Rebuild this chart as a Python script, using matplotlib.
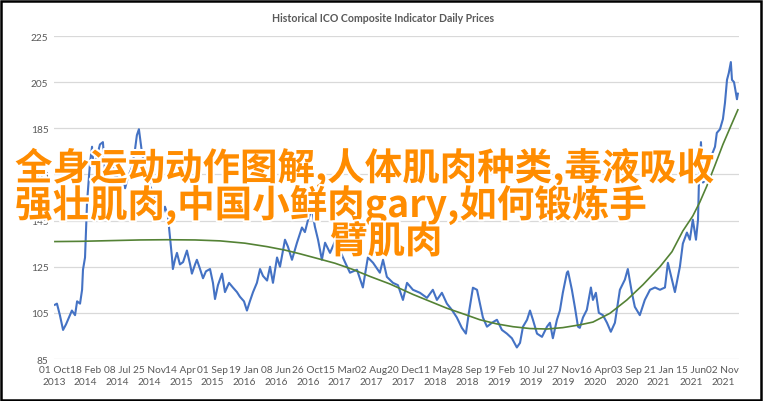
import matplotlib
matplotlib.use("Agg")
import matplotlib.pyplot as plt
import matplotlib.patheffects as pe
import pandas as pd

W, H = 766, 402

# Composite indicator (US cents/lb), days counted from the first trading day
start_date = "2013-10-01"
blue_day = [4, 13, 26, 40, 53, 66, 79, 93, 102, 115, 124, 128, 137, 146, 155, 159, 168, 172,
            181, 190, 203, 216, 225, 234, 247, 261, 274, 291, 305, 314, 327, 344, 358, 366,
            375, 384, 389, 402, 411, 424, 437, 450, 459, 477, 490, 503, 512, 521, 525, 534,
            543, 556, 570, 587, 601, 609, 623, 631, 645, 658, 671, 689, 702, 711, 724, 742,
            755, 773, 790, 808, 821, 839, 852, 865, 879, 896, 910, 923, 941, 954, 967, 985,
            998, 1020, 1033, 1051, 1073, 1095, 1108, 1122, 1139, 1152, 1166, 1183, 1197, 1219,
            1241, 1263, 1285, 1307, 1338, 1364, 1386, 1409, 1439, 1453, 1470, 1497, 1519, 1541,
            1559, 1585, 1616, 1647, 1673, 1691, 1713, 1735, 1757, 1779, 1801, 1819, 1832, 1850,
            1868, 1881, 1894, 1912, 1934, 1956, 1978, 2000, 2022, 2044, 2058, 2071, 2089, 2102,
            2115, 2133, 2155, 2177, 2190, 2203, 2221, 2234, 2247, 2265, 2270, 2287, 2300, 2314,
            2322, 2336, 2353, 2371, 2380, 2393, 2406, 2424, 2442, 2459, 2477, 2499, 2521, 2534,
            2552, 2565, 2587, 2609, 2632, 2654, 2676, 2698, 2711, 2729, 2742, 2764, 2777, 2795,
            2808, 2821, 2835, 2844, 2848, 2857, 2866, 2883, 2897, 2919, 2927, 2941, 2954, 2963,
            2972, 2980, 2989, 2994, 3003, 3011, 3016, 3020]
blue_price = [108.5, 109, 104, 97.6, 100, 103, 106, 104, 110, 109, 115, 123.7, 129, 153, 165, 170, 177, 172,
              168, 173, 178, 179, 167, 170, 164, 168, 162, 170, 164, 159, 164, 168, 176, 182,
              184.6, 178, 174, 168, 164, 160, 157, 152, 150, 147, 151, 147, 138, 129, 124, 128,
              131, 126, 127, 132, 126, 122, 126, 128, 124, 120, 123, 124, 118, 111, 117, 122,
              114, 118, 116, 114, 112, 110, 106, 110, 114, 118, 124, 121, 119, 125, 118, 129,
              125, 136.7, 133.7, 128, 135.4, 142, 140, 145.4, 150, 142.4, 136.7, 128, 135.4, 131,
              136, 132, 127, 122.4, 123.7, 116, 129, 126.7, 122.4, 128, 120.6, 118, 117, 110.6,
              118, 115, 113.7, 111.5, 115, 110.6, 113.7, 109, 106.3, 103, 98.5, 96, 105, 115.9,
              115, 109, 103, 99, 100.7, 102, 97.6, 96, 94, 90, 92, 99, 102, 106,
              102, 96, 94.6, 99, 100.7, 94, 102, 106, 113.7, 122.4, 123, 115, 107.6, 99,
              98.5, 103, 106.3, 116, 110.6, 113.7, 105, 104, 100.7, 96.8, 100.7, 115, 119.4, 124,
              113.7, 107.6, 104, 110.6, 115, 116, 115, 116, 126.7, 119.4, 114, 125, 135, 139.8,
              136.7, 145.4, 136.7, 145.4, 161.5, 179, 161.5, 163, 171.5, 177, 183, 184.6, 189, 196,
              206, 209, 213.7, 206, 205, 200.6, 197.6, 200]

# polynomial trendline
trend_day = [4, 115, 247, 380, 499, 623, 733, 843, 941, 1020, 1086, 1166, 1241, 1320, 1395,
             1484, 1585, 1660, 1735, 1815, 1881, 1956, 2027, 2102, 2177, 2247, 2322, 2380,
             2455, 2530, 2601, 2676, 2729, 2777, 2821, 2852, 2883, 2919, 2954, 2989, 3020]
trend_price = [135.9, 136.0, 136.3, 136.6, 136.7, 136.6, 136.2, 135.2, 133.7, 132.2, 130.6,
               128.5, 126.5, 123.8, 120.8, 117.5, 113, 110, 107, 104.3, 102, 100.2, 99, 98.2,
               98, 98.6, 99.8, 101, 104.8, 110.6, 117.2, 125, 131.5, 140.5, 147, 153, 160,
               169, 178, 186, 193]

tick_dates = ["2013-10-01", "2014-02-18", "2014-07-08", "2014-11-25", "2015-04-14",
              "2015-09-01", "2016-01-19", "2016-06-08", "2016-10-26", "2017-03-15",
              "2017-08-02", "2017-12-20", "2018-05-11", "2018-09-28", "2019-02-19",
              "2019-07-10", "2019-11-27", "2020-04-16", "2020-09-03", "2021-01-21",
              "2021-06-15", "2021-11-02"]
y_ticks = [85, 105, 125, 145, 165, 185, 205, 225]

title = "Historical ICO Composite Indicator Daily Prices"
overlay_lines = ["全身运动动作图解,人体肌肉种类,毒液吸收",
                 "强壮肌肉,中国小鲜肉gary,如何锻炼手",
                 "臂肌肉"]

t0 = pd.Timestamp(start_date)
blue_x = t0 + pd.to_timedelta(blue_day, unit="D")
trend_x = t0 + pd.to_timedelta(trend_day, unit="D")
ticks = pd.to_datetime(tick_dates)

fig = plt.figure(figsize=(W / 100, H / 100), dpi=100)
ax = fig.add_axes([54 / W, 1 - 360 / H, 685 / W, 323 / H])

ax.plot(blue_x, blue_price, color="#4472C4", lw=1.5, zorder=3)
ax.plot(trend_x, trend_price, color="#548235", lw=1.2, zorder=4)

ax.set_xlim(t0, t0 + pd.Timedelta(days=3025))
ax.set_ylim(85, 225)
ax.set_yticks(y_ticks)
ax.set_xticks(ticks)
ax.set_xticklabels([d.strftime("%d %b\n%Y") for d in ticks])
ax.grid(axis="y", color="#D9D9D9", lw=0.9)
ax.set_axisbelow(True)
for s in ax.spines.values():
    s.set_visible(False)
ax.tick_params(length=0, labelsize=7.3, labelcolor="#595959", pad=4)
for lab in ax.get_xticklabels() + ax.get_yticklabels():
    lab.set_fontfamily("Lato")
for lab in ax.get_xticklabels():
    lab.set_linespacing(1.5)

fig.text(0.5, 1 - 19 / H, title, ha="center", va="center", fontsize=7.6,
         fontweight="bold", color="#595959", family="Lato")

# overlay caption
halo = [pe.withStroke(linewidth=3, foreground="white")]
text_pos = [(15, 181), (15, 218), (330, 254)]
for line, (px, py) in zip(overlay_lines, text_pos):
    fig.text(px / W, 1 - py / H, line, ha="left", va="baseline", fontsize=27,
             color="#FF8C00", family=["Noto Sans CJK SC", "DejaVu Sans"],
             fontweight="bold", path_effects=halo, zorder=10)

# outer frame
fig.patches.append(plt.Rectangle((1 / W, 1 / H), 760 / W, 399 / H, transform=fig.transFigure,
                                 fill=False, ec="black", lw=1.8))

fig.savefig("out.png", dpi=100)
